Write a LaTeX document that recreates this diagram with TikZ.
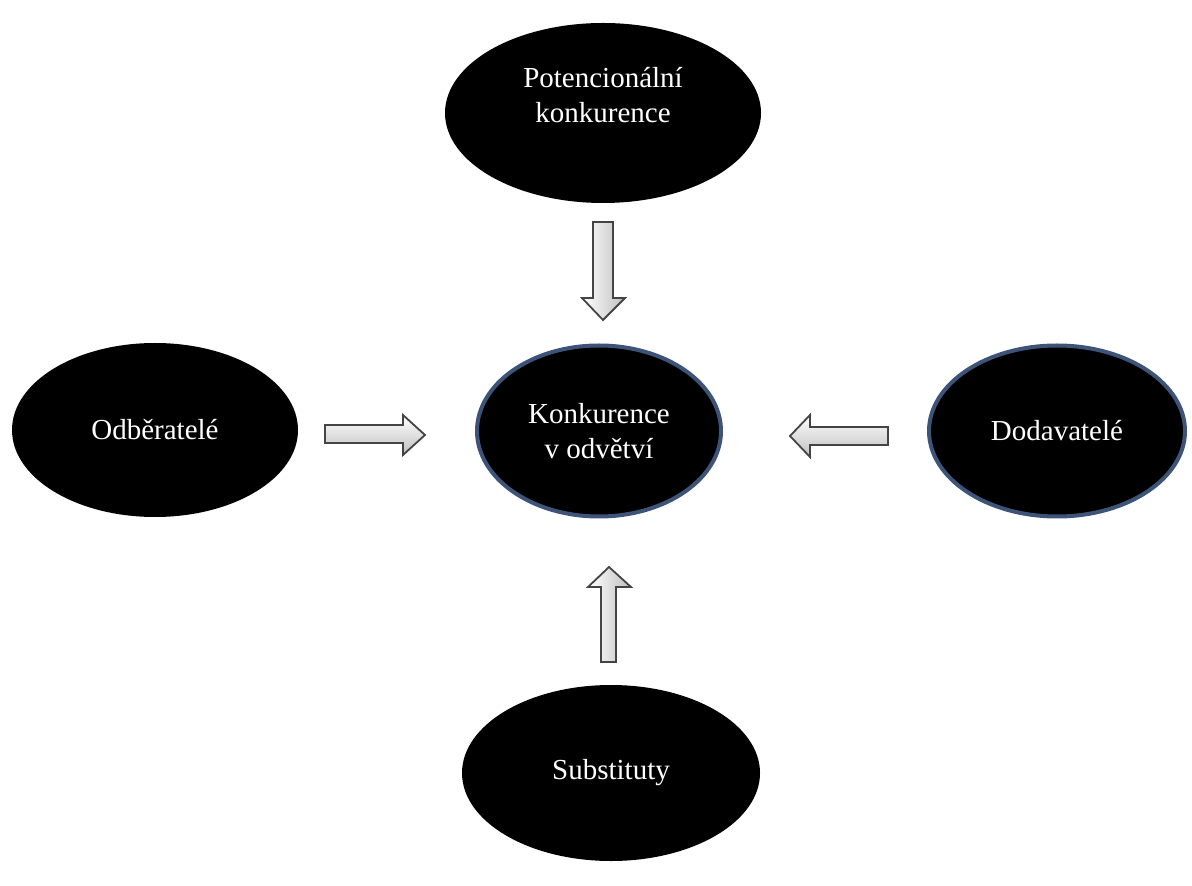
\documentclass[tikz,border=0pt]{standalone}
\usepackage{fontspec}
\setmainfont{Liberation Serif}
\usetikzlibrary{shapes.geometric}
\definecolor{rimblue}{HTML}{3D5377}
\definecolor{arrowedge}{HTML}{444444}
\begin{document}
\begin{tikzpicture}[x=0.5pt,y=-0.5pt,
  oval/.style={ellipse,fill=black,inner sep=0pt,text=white,align=center,
    font=\fontsize{14.5}{17.5}\selectfont},
  rimmed/.style={oval,draw=rimblue,line width=2pt},
  harrow/.style={draw=arrowedge,line width=0.9pt,line join=miter,top color=white,bottom color=gray!50},
  varrow/.style={draw=arrowedge,line width=0.9pt,line join=miter,left color=white,right color=gray!50}]
\useasboundingbox (0,0) rectangle (1192,886);
% ellipses
\node[oval,minimum width=158pt,minimum height=90pt] (pot) at (603,113) {};
\node[white,align=center,font=\fontsize{14.5}{17.5}\selectfont] (pottext) at (603,95) {Potencionální\\konkurence};
\node[oval,minimum width=143pt,minimum height=87pt] (odb) at (155,430) {Odběratelé};
\node[rimmed,minimum width=122pt,minimum height=85.5pt] (kon) at (599,431) {Konkurence\\v odvětví};
\node[rimmed,minimum width=128pt,minimum height=85.5pt] (dod) at (1057,431) {Dodavatelé};
\node[oval,minimum width=149pt,minimum height=88pt] (sub) at (611,773) {Substituty};
% block arrows
\draw[varrow] (593,222) -- (613,222) -- (613,298) -- (625,298) -- (603,320) -- (582,298) -- (593,298) -- cycle;
\draw[varrow] (601,662) -- (616,662) -- (616,587) -- (631,587) -- (609,567) -- (588,587) -- (601,587) -- cycle;
\draw[harrow] (325,425) -- (403,425) -- (403,415) -- (425,435) -- (403,455) -- (403,443) -- (325,443) -- cycle;
\draw[harrow] (888,427) -- (810,427) -- (810,415) -- (790,436) -- (810,457) -- (810,445) -- (888,445) -- cycle;
\end{tikzpicture}
\end{document}
